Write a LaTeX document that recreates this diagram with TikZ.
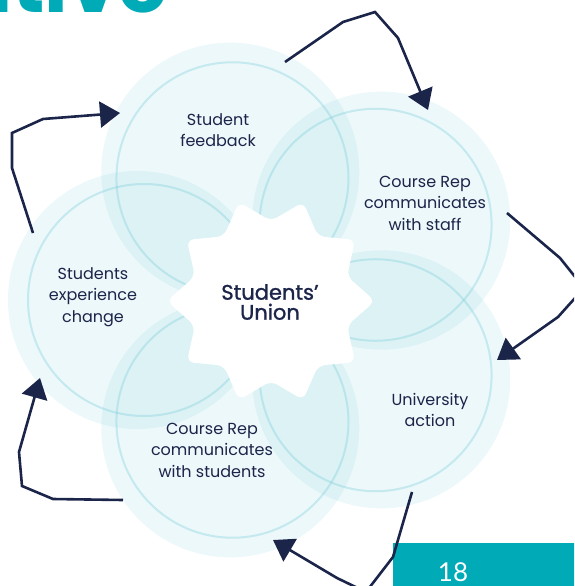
\documentclass[tikz,border=0pt]{standalone}
\usepackage{fontspec}
\usetikzlibrary{arrows.meta,calc}
\newfontfamily\pop{Poppins}
\newfontfamily\popm[FakeBold=1.2]{Poppins}
\newfontfamily\lato{Lato}
\definecolor{navy}{HTML}{1B2449}
\definecolor{myteal}{HTML}{00AAB6}
\definecolor{discc}{RGB}{110,200,215}
\definecolor{ringc}{RGB}{130,208,220}
\tikzset{
  lbl/.style={font=\pop\fontsize{16}{21.5}\selectfont, text=navy, align=center, inner sep=0},
  arr/.style={draw=navy, line width=2.6pt, line join=miter, -{Triangle[length=20pt,width=26pt]}},
  disc/.style={fill=discc, opacity=0.13},
  ring/.style={draw=ringc, line width=2pt, opacity=0.38}
}
\begin{document}
\begin{tikzpicture}[x=1pt,y=-1pt]
\useasboundingbox (0,0) rectangle (574,586);
\clip (0,0) rectangle (574,586);
% title fragment
\node[anchor=base east, font=\pop\bfseries\fontsize{80}{80}\selectfont, text=myteal, inner sep=0] (title) at (168,13) {ative};
% discs and rings
\foreach \a in {180,108,36,-36,-108} {
  \fill[disc] ($(272,300)+(\a:135)$) circle[radius=129pt];
}
\foreach \a in {180,108,36,-36,-108} {
  \draw[ring] ($(272,300)+(\a:128)$) circle[radius=116pt];
}
% star
\fill[white, rounded corners=7pt] ($(271,301)+(0:104)$)
  \foreach \k in {1,...,19} { -- ($(271,301)+({\k*18}:{ifthenelse(isodd(\k),80,104)})$) } -- cycle;
% labels
\node[lbl] (fb) at (218,130) {Student\\feedback};
\node[lbl] (staff) at (425,203) {Course Rep\\communicates\\with staff};
\node[lbl] (action) at (430,410) {University\\action};
\node[lbl] (students) at (212,450) {Course Rep\\communicates\\with students};
\node[lbl] (change) at (93,297) {Students\\experience\\change};
\node[font=\popm\fontsize{21}{20}\selectfont, text=navy, align=center, inner sep=0] (su) at (270,302) {Students’\\Union};
% page number box
\node[fill=myteal, anchor=north west, minimum width=200pt, minimum height=50pt, inner sep=0] (pg) at (393,543) {};
\node[font=\lato\fontsize{26}{26}\selectfont, text=white, inner sep=0] (num) at (453,572) {18};
% arrows
\coordinate (a1s) at (285,62); \coordinate (a1b) at (343,22); \coordinate (a1c) at (375,12); \coordinate (a1d) at (398,38); \coordinate (a1t) at (428,110);
\draw[arr] (a1s) -- (a1b) -- (a1c) -- (a1d) -- (a1t);
\coordinate (a2s) at (507,213); \coordinate (a2b) at (560,258); \coordinate (a2c) at (584,288); \coordinate (a2d) at (558,317); \coordinate (a2t) at (497,360);
\draw[arr] (a2s) -- (a2b) -- (a2c) -- (a2d) -- (a2t);
\coordinate (a3s) at (412,492); \coordinate (a3b) at (393,557); \coordinate (a3c) at (366,592); \coordinate (a3d) at (337,578); \coordinate (a3t) at (273,540);
\draw[arr] (a3s) -- (a3b) -- (a3c) -- (a3d) -- (a3t);
\coordinate (a4s) at (123,500); \coordinate (a4b) at (53,499); \coordinate (a4c) at (22,486); \coordinate (a4d) at (19,452); \coordinate (a4t) at (40,378);
\draw[arr] (a4s) -- (a4b) -- (a4c) -- (a4d) -- (a4t);
\coordinate (a5s) at (33,233); \coordinate (a5b) at (12,168); \coordinate (a5c) at (12,133); \coordinate (a5d) at (43,119); \coordinate (a5t) at (120,113);
\draw[arr] (a5s) -- (a5b) -- (a5c) -- (a5d) -- (a5t);
\end{tikzpicture}
\end{document}
